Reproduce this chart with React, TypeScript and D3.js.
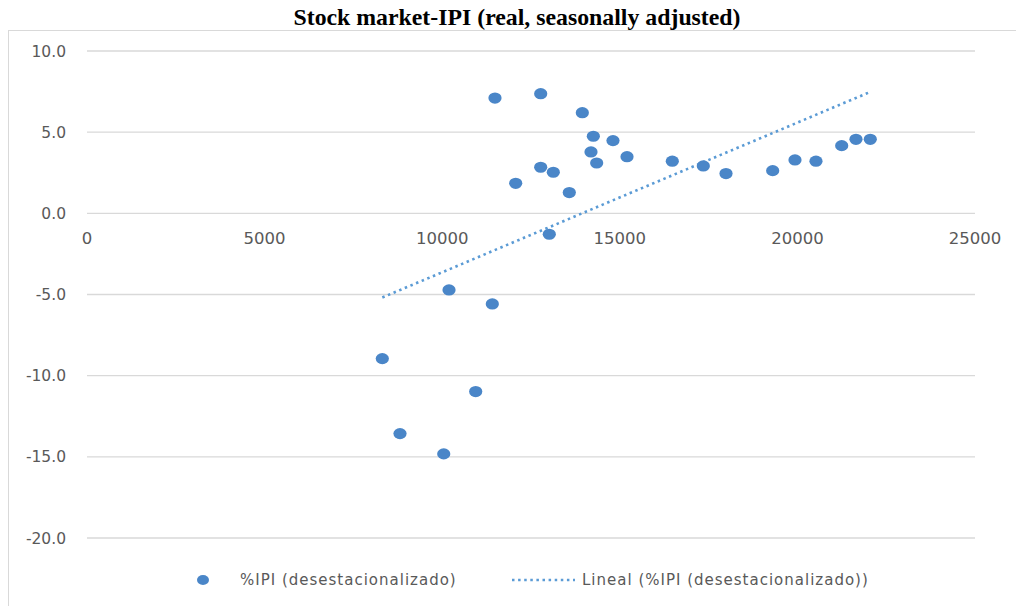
import React from "react";
import * as d3 from "d3";

const title = "Stock market-IPI (real, seasonally adjusted)";
const seriesName = "%IPI (desestacionalizado)";
const trendName = "Lineal (%IPI (desestacionalizado))";

// stock market index (x) vs % IPI (y)
const stockValues = [
  11486, 12773, 13945, 14255, 14808, 14189, 14349, 15203, 12773, 13128,
  12069, 13578, 13015, 16478, 17351, 17990, 19304, 19932, 20523, 21247,
  21649, 22052, 10192, 11411, 8314, 10943, 8812, 10043,
];
const ipiValues = [
  7.1, 7.37, 6.2, 4.75, 4.48, 3.78, 3.1, 3.49, 2.84, 2.53,
  1.85, 1.28, -1.29, 3.21, 2.92, 2.45, 2.63, 3.29, 3.21, 4.17,
  4.56, 4.56, -4.72, -5.58, -8.95, -10.98, -13.57, -14.82,
];
const xTicks = [0, 5000, 10000, 15000, 20000, 25000];
const yTicks = [10, 5, 0, -5, -10, -15, -20];

const W = 1016;
const H = 606;
const grey = "#595959";
const gridColor = "#d9d9d9";
const dotColor = "#4A86C8";
const trendColor = "#5B9BD5";
const font = "'DejaVu Sans', sans-serif";

export default function App() {
  const x = d3.scaleLinear().domain([0, 25000]).range([87, 975]);
  const y = d3.scaleLinear().domain([-20, 10]).range([538, 51]);

  // least squares trend line
  const mx = d3.mean(stockValues) as number;
  const my = d3.mean(ipiValues) as number;
  let sxy = 0;
  let sxx = 0;
  stockValues.forEach((v, i) => {
    sxy += (v - mx) * (ipiValues[i] - my);
    sxx += (v - mx) * (v - mx);
  });
  const slope = sxy / sxx;
  const icpt = my - slope * mx;
  const [xmin, xmax] = d3.extent(stockValues) as [number, number];
  const trend = d3.line<number>().x((d) => x(d)).y((d) => y(icpt + slope * d));

  return (
    <svg
      width={W}
      height={H}
      style={{ position: "absolute", left: 0, top: 0, background: "#fff" }}
    >
      <rect x={8.5} y={30.5} width={1020} height={600} fill="#fff" stroke={gridColor} />
      <text
        x={517}
        y={25}
        textAnchor="middle"
        fontFamily="'Liberation Serif', 'Times New Roman', serif"
        fontWeight="bold"
        fontSize={23.8}
        fill="#000"
      >
        {title}
      </text>
      {yTicks.map((t) => (
        <g key={t}>
          <line x1={87} x2={975} y1={y(t)} y2={y(t)} stroke={gridColor} strokeWidth={1.3} />
          <text
            x={66}
            y={y(t) + 5.5}
            textAnchor="end"
            fontFamily={font}
            fontSize={15.5}
            fill={grey}
          >
            {t.toFixed(1)}
          </text>
        </g>
      ))}
      {xTicks.map((t) => (
        <text
          key={t}
          x={x(t)}
          y={y(0) + 31}
          textAnchor="middle"
          fontFamily={font}
          fontSize={16.5}
          fill={grey}
        >
          {t}
        </text>
      ))}
      <path
        d={trend([xmin, xmax]) || ""}
        fill="none"
        stroke={trendColor}
        strokeWidth={2.6}
        strokeDasharray="2.5 3.6"
      />
      {stockValues.map((v, i) => (
        <ellipse key={i} cx={x(v)} cy={y(ipiValues[i])} rx={6.6} ry={5.6} fill={dotColor} />
      ))}
      {/* legend */}
      <ellipse cx={203} cy={580} rx={6} ry={5} fill={dotColor} />
      <text x={240} y={585} fontFamily={font} fontSize={15} letterSpacing={1} fill={grey}>
        {seriesName}
      </text>
      <line
        x1={512}
        x2={575}
        y1={580}
        y2={580}
        stroke={trendColor}
        strokeWidth={2.6}
        strokeDasharray="2.5 3.6"
      />
      <text x={582} y={585} fontFamily={font} fontSize={15} letterSpacing={1} fill={grey}>
        {trendName}
      </text>
    </svg>
  );
}
